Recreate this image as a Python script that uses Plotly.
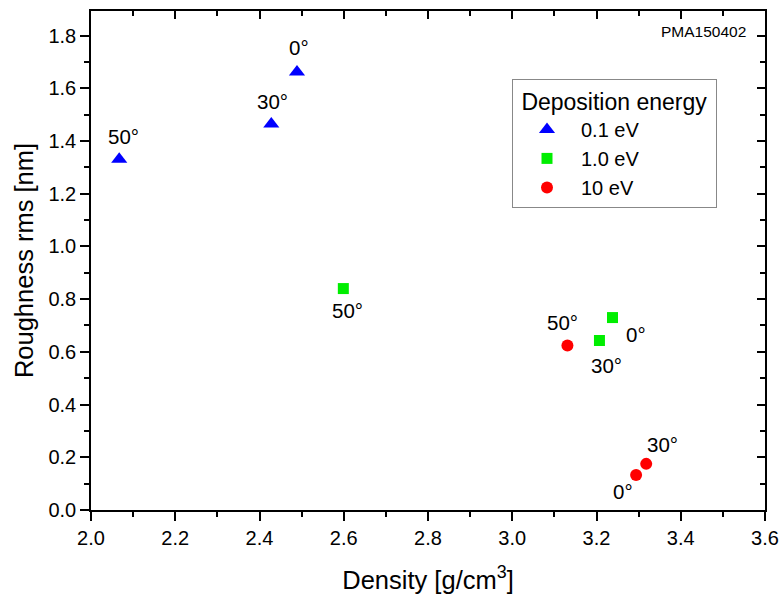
import plotly.graph_objects as go

# Data
density_01 = [2.067, 2.428, 2.489]
rough_01 = [1.331, 1.464, 1.662]
angles_01 = ["50°", "30°", "0°"]

density_10 = [2.599, 3.238, 3.207]
rough_10 = [0.840, 0.730, 0.643]
angles_10 = ["50°", "0°", "30°"]

density_100 = [3.131, 3.294, 3.318]
rough_100 = [0.624, 0.133, 0.175]
angles_100 = ["50°", "0°", "30°"]

series_names = ["0.1 eV", "1.0 eV", "10 eV"]

FONT = "Liberation Sans, Arial, sans-serif"

W, H = 781, 595
ML, MR, MT, MB = 91, 16, 11, 85
PW, PH = W - ML - MR, H - MT - MB


def px_to_paper(px, py):
    return (px - ML) / PW, (MT + PH - py) / PH


fig = go.Figure()
fig.add_trace(go.Scatter(x=density_01, y=rough_01, mode="markers", name=series_names[0],
                         marker=dict(symbol="triangle-up", size=14, color="#0000FF")))
fig.add_trace(go.Scatter(x=density_10, y=rough_10, mode="markers", name=series_names[1],
                         marker=dict(symbol="square", size=11, color="#00EE00")))
fig.add_trace(go.Scatter(x=density_100, y=rough_100, mode="markers", name=series_names[2],
                         marker=dict(symbol="circle", size=12, color="#FF0000")))

# label offsets (pixels): style only
offs_01 = [(4, 23), (1, 23), (2, 24)]
offs_10 = [(4, -22), (23, -17), (7, -25)]
offs_100 = [(-5, 23), (-13, -17), (16, 19)]

for xs, ys, labs, offs in [(density_01, rough_01, angles_01, offs_01),
                           (density_10, rough_10, angles_10, offs_10),
                           (density_100, rough_100, angles_100, offs_100)]:
    for x, y, t, (dx, dy) in zip(xs, ys, labs, offs):
        fig.add_annotation(x=x, y=y, xref="x", yref="y", text=t, showarrow=False,
                           xshift=dx, yshift=dy, font=dict(family=FONT, size=20.5, color="black"))

ax, ay = px_to_paper(748, 31)
fig.add_annotation(x=ax, y=ay, xref="paper", yref="paper", text="PMA150402",
                   showarrow=False, xanchor="right", yanchor="middle",
                   font=dict(family=FONT, size=15.5, color="black"))

axis_common = dict(showgrid=False, zeroline=False, linecolor="black", linewidth=1.5,
                   tickcolor="black", tickwidth=1.5, automargin=False)

lx, ly = px_to_paper(512, 79)

fig.update_layout(
    width=W, height=H,
    margin=dict(l=ML, r=MR, t=MT, b=MB),
    plot_bgcolor="white", paper_bgcolor="white",
    font=dict(family=FONT, color="black"),
    xaxis=dict(range=[2.0, 3.6], dtick=0.2, tick0=2.0, tickformat=".1f",
               ticks="outside", ticklen=9,
               minor=dict(dtick=0.1, ticks="outside", ticklen=5, tickcolor="black", tickwidth=1.5),
               title=dict(text="Density [g/cm<sup>3</sup>]", font=dict(size=25.5), standoff=23),
               tickfont=dict(size=20), **axis_common),
    yaxis=dict(range=[0.0, 1.893], dtick=0.2, tick0=0.0, tickformat=".1f",
               ticks="outside", ticklen=9,
               minor=dict(dtick=0.1, ticks="outside", ticklen=5, tickcolor="black", tickwidth=1.5),
               title=dict(text="Roughness rms [nm]", font=dict(size=25.5), standoff=8),
               tickfont=dict(size=20), **axis_common),
    xaxis2=dict(range=[2.0, 3.6], overlaying="x", side="top", dtick=0.2, tick0=2.0,
                ticks="inside", ticklen=8, showticklabels=False,
                minor=dict(dtick=0.1, ticks="inside", ticklen=5, tickcolor="black", tickwidth=1.5),
                **axis_common),
    yaxis2=dict(range=[0.0, 1.893], overlaying="y", side="right", dtick=0.2, tick0=0.0,
                ticks="inside", ticklen=8, showticklabels=False,
                minor=dict(dtick=0.1, ticks="inside", ticklen=5, tickcolor="black", tickwidth=1.5),
                **axis_common),
    legend=dict(x=lx, y=ly, xanchor="left", yanchor="top",
                bordercolor="#888888", borderwidth=1, bgcolor="white",
                title=dict(text="&nbsp;Deposition energy&nbsp;", font=dict(size=23)),
                font=dict(size=20), itemwidth=58, tracegroupgap=0),
    showlegend=True,
)

# invisible trace to activate secondary axes
fig.add_trace(go.Scatter(x=[2.0], y=[0.0], xaxis="x2", yaxis="y2", mode="markers",
                         marker=dict(opacity=0), showlegend=False, hoverinfo="skip"))

fig.write_html("out.html", config={"displayModeBar": False},
               post_script="document.body.style.margin='0';document.body.style.overflow='hidden';")
